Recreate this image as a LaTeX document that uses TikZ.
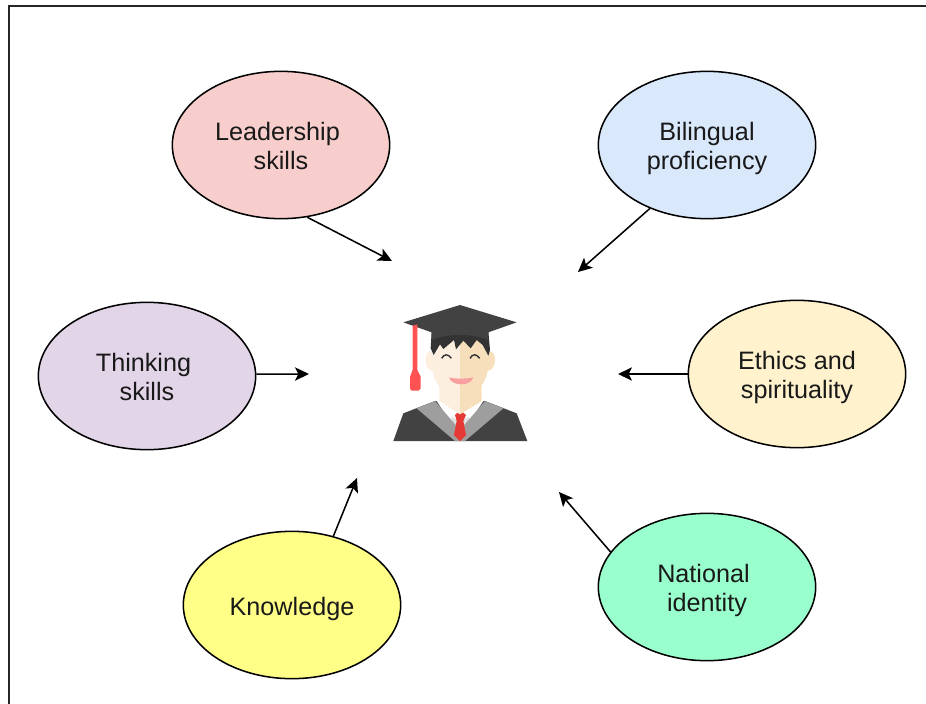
\documentclass[tikz,border=0pt]{standalone}
\usepackage{fontspec}
\setmainfont{Liberation Sans}
\usetikzlibrary{arrows.meta}
\usetikzlibrary{shapes.geometric}

\definecolor{gown}{HTML}{424242}
\definecolor{stole}{HTML}{9E9E9E}
\definecolor{collar}{HTML}{E0E0E0}
\definecolor{hair}{HTML}{333333}
\definecolor{tie}{HTML}{E53935}
\definecolor{tassel}{HTML}{FF5252}
\definecolor{skinleft}{HTML}{FCEFDF}
\definecolor{skinright}{HTML}{F7DFBB}
\definecolor{lips}{HTML}{F8A0A0}

\newcommand{\skillstrut}{\rule{0pt}{22pt}}

\tikzset{
  skill/.style={draw=black, line width=1.15pt, ellipse, minimum width=163pt, minimum height=110.5pt, inner sep=0pt, align=center, text=black!90},
  influence/.style={-{Stealth[length=10.5pt,width=10pt,inset=2.5pt]}, line width=1.15pt, black}
}

\begin{document}
\begin{tikzpicture}[x=.75pt,y=-.75pt]\fontsize{18.9}{21.8}\selectfont

\useasboundingbox (0,0) rectangle (926,704);

\draw[line width=1.5pt, black!85] (8.5,704) -- (8.5,6) -- (926,6);

\node[skill, fill={rgb,255:red,248;green,206;blue,204}] (Leadership) at (281,145) {\skillstrut Leadership~\mbox{}\\\strut skills};
\node[skill, fill={rgb,255:red,218;green,232;blue,252}] (Bilingual) at (707,145) {\skillstrut Bilingual\\\strut proficiency};
\node[skill, fill={rgb,255:red,225;green,213;blue,231}] (Thinking) at (147,376) {\skillstrut Thinking~\mbox{}\\\strut skills};
\node[skill, fill={rgb,255:red,255;green,242;blue,204}] (Ethics) at (797,374) {\skillstrut Ethics and\\\strut spirituality};
\node[skill, fill={rgb,255:red,255;green,255;blue,136}] (Knowledge) at (292,605) {\skillstrut\strut Knowledge};
\node[skill, fill={rgb,255:red,153;green,255;blue,204}] (National) at (707,587) {\skillstrut National~\mbox{}\\\strut identity};

\coordinate (LeadershipEnd) at (392,261);
\coordinate (BilingualEnd) at (578,272);
\coordinate (ThinkingEnd) at (309,374);
\coordinate (EthicsEnd) at (618,374);
\coordinate (KnowledgeEnd) at (357,478);
\coordinate (NationalEnd) at (559,492);

\draw[influence] (Leadership.-70) -- (LeadershipEnd);
\draw[influence] (Bilingual.228) -- (BilingualEnd);
\draw[influence] (Thinking.1) -- (ThinkingEnd);
\draw[influence] (Ethics.180) -- (EthicsEnd);
\draw[influence] (Knowledge.59) -- (KnowledgeEnd);
\draw[influence] (National.160) -- (NationalEnd);

\begin{scope}[shift={(380,295)},x=.25pt,y=-.25pt]
\fill[gown] (40,438) -- (70,355) -- (165,318) -- (315,318) -- (410,355) -- (442,438) -- cycle;
\fill[white] (170,318) -- (310,318) -- (240,425) -- cycle;
\fill[collar] (215,365) -- (240,380) -- (268,365) -- (270,400) -- (240,425) -- (212,400) -- cycle;
\fill[stole] (110,340) -- (165,318) -- (240,405) -- (315,318) -- (370,340) -- (255,438) -- (225,438) -- cycle;
\fill[tie] (225,360) -- (240,345) -- (258,360) -- (250,378) -- (258,420) -- (240,438) -- (222,420) -- (230,378) -- cycle;
\fill[skinleft] (178,270) -- (178,318) -- (240,358) -- (240,270) -- cycle;
\fill[skinright] (305,270) -- (305,318) -- (240,358) -- (240,270) -- cycle;
\fill[skinleft] (240,110) -- (155,110) -- (155,168) .. controls (130,165) and (130,225) .. (158,228) .. controls (165,275) and (205,310) .. (240,312) -- cycle;
\fill[skinright] (240,110) -- (325,110) -- (325,168) .. controls (352,165) and (352,225) .. (323,228) .. controls (315,275) and (275,310) .. (240,312) -- cycle;
\fill[hair] (155,110) -- (325,110) -- (330,165) -- (325,182) -- (308,150) -- (290,135) -- (272,160) -- (250,137) -- (228,163) -- (222,135) -- (190,162) -- (180,148) -- (161,180) -- (152,160) -- cycle;
\fill[gown] (70,82) -- (240,30) -- (410,82) -- (325,112) -- (325,135) .. controls (280,115) and (200,115) .. (155,135) -- (155,112) -- cycle;
\fill[tassel] (98,92) -- (112,88) -- (112,230) -- (98,230) -- cycle;
\fill[tassel] (98,225) -- (112,225) -- (122,245) -- (122,280) -- (116,287) -- (94,287) -- (90,280) -- (90,245) -- cycle;
\draw[hair, line width=1.05pt] (185,190) .. controls (192,176) and (205,176) .. (214,190);
\draw[hair, line width=1.05pt] (270,190) .. controls (277,176) and (290,176) .. (299,190);
\fill[lips] (207,247) .. controls (225,252) and (260,252) .. (280,247) .. controls (272,275) and (215,275) .. (207,247) -- cycle;
\end{scope}

\end{tikzpicture}
\end{document}
